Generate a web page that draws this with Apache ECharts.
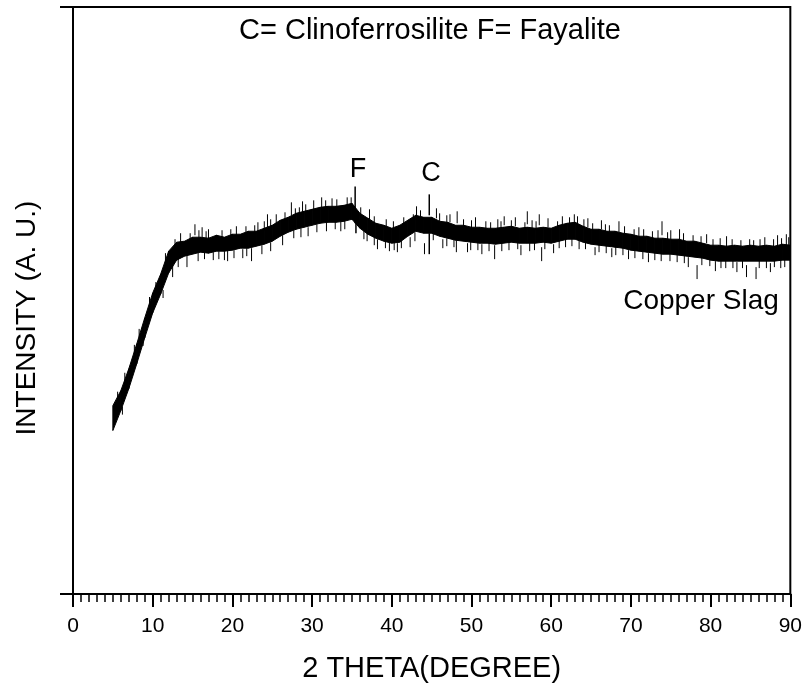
<!DOCTYPE html>
<html>
<head>
<meta charset="utf-8">
<script src="https://cdn.jsdelivr.net/npm/echarts/dist/echarts.min.js"></script>
<style>
  html, body { margin: 0; padding: 0; background: #fff; }
  #main { width: 805px; height: 688px; }
</style>
</head>
<body>
<div id="main"></div>
<script>
// 2 theta positions (degree), read every 1 degree
const twoTheta = [5,6,7,8,9,10,11,12,13,14,15,16,17,18,19,20,21,22,23,24,25,26,27,28,29,30,
  31,32,33,34,35,36,37,38,39,40,41,42,43,44,45,46,47,48,49,50,51,52,53,54,55,56,57,58,59,60,
  61,62,63,64,65,66,67,68,69,70,71,72,73,74,75,76,77,78,79,80,81,82,83,84,85,86,87,88,89,90];
// top and bottom of the dense part of the noisy trace (arbitrary units)
const upperEdge = [189,204,226,251,277,302,321,344,353,354,
  358,358,357,360,358,361,361,364,364,367,
  370,375,378,382,384,386,388,389,389,390,
  392,382,377,372,370,367,370,375,380,378,
  378,374,373,370,370,368,368,367,367,368,
  369,367,368,367,368,367,370,372,373,369,
  366,366,364,364,362,361,359,359,357,357,
  356,356,354,354,352,350,350,349,350,349,
  350,349,350,349,351,350];
const lowerEdge = [164,184,206,231,257,282,301,322,335,339,
  341,343,342,344,344,345,347,347,349,351,
  354,359,363,366,368,370,372,373,373,374,
  376,367,361,357,354,352,353,359,364,362,
  362,359,357,355,354,353,352,352,351,352,
  353,352,352,352,353,352,354,356,356,353,
  351,350,349,348,347,345,344,343,342,341,
  341,340,339,338,337,335,334,334,334,334,
  334,334,334,334,335,335];
// the two marked reflections: [2 theta, from, to]
const peaks = [[35.4, 372, 409], [35.5, 362, 380], [44.7, 380, 401], [44.7, 341, 362]];
// noise spikes sticking out of the band: [2 theta, from, to]
const spikes = [
  [15.3, 360, 371], [16.2, 358, 368], [19.4, 334, 345], [22.4, 334, 347], [24.4, 368, 381],
  [27.4, 380, 393], [28.8, 383, 394], [31.2, 388, 398], [39.7, 344, 354], [40.7, 343, 352],
  [43.1, 378, 389], [44.1, 341, 352], [48.1, 343, 355], [48.2, 372, 384], [52.9, 336, 350],
  [54.1, 370, 379], [57.0, 371, 384], [58.5, 370, 381], [58.8, 334, 348], [62.9, 372, 381],
  [73.9, 360, 374], [76.1, 356, 366], [78.3, 316, 330], [84.5, 318, 330], [85.7, 316, 328],
  [89.5, 350, 361],
  [6.5, 212, 222], [7.7, 240, 250], [9.6, 288, 298], [11.6, 332, 342], [12.5, 318, 330],
  [13.5, 352, 362], [14.3, 328, 340], [17.0, 357, 366], [18.3, 336, 344], [20.5, 360, 369],
  [21.3, 337, 346], [23.2, 364, 373], [25.5, 371, 381], [26.3, 350, 360], [29.5, 359, 368],
  [30.2, 385, 395], [32.5, 388, 397], [33.6, 364, 374], [34.4, 390, 398], [36.5, 356, 366],
  [37.2, 376, 386], [38.2, 346, 356], [41.5, 369, 378], [42.3, 348, 358], [45.6, 377, 387],
  [46.4, 347, 356], [47.3, 373, 381], [49.5, 343, 352], [50.5, 368, 378], [51.3, 341, 351],
  [53.3, 367, 376], [55.5, 369, 378], [56.2, 340, 350], [59.6, 368, 377], [60.3, 342, 351],
  [61.4, 370, 379], [63.5, 346, 355], [64.6, 368, 377], [65.5, 340, 348], [66.3, 366, 375],
  [67.6, 338, 347], [68.5, 363, 374], [69.7, 336, 345], [71.0, 359, 368], [72.2, 333, 342],
  [75.0, 356, 365], [77.2, 328, 338], [79.5, 352, 361], [80.6, 324, 334], [82.0, 349, 359],
  [83.3, 323, 333], [86.8, 349, 358], [87.5, 323, 332], [88.4, 349, 360],
  [5.6, 195, 203], [8.3, 258, 266], [10.4, 305, 313], [12.8, 348, 356], [14.7, 354, 362],
  [15.8, 356, 365], [16.7, 356, 364], [18.7, 356, 365], [19.8, 358, 366], [21.7, 360, 369],
  [22.8, 362, 370], [24.0, 365, 374], [24.8, 367, 376], [26.6, 374, 383], [27.9, 378, 387],
  [28.4, 380, 388], [29.2, 382, 391], [31.7, 386, 395], [33.1, 387, 396], [34.9, 389, 398],
  [36.1, 380, 388], [37.8, 372, 379], [39.3, 368, 376], [40.2, 366, 374], [42.7, 373, 381],
  [43.6, 376, 385], [46.0, 374, 382], [46.9, 371, 380], [49.0, 368, 376], [50.0, 367, 375],
  [51.8, 365, 374], [52.4, 365, 373], [53.7, 365, 374], [55.0, 366, 375], [56.7, 365, 373],
  [57.6, 365, 375], [58.1, 366, 374], [60.8, 366, 374], [62.3, 370, 378], [63.3, 371, 379],
  [64.1, 368, 376], [65.2, 364, 372], [66.8, 363, 371], [67.3, 362, 370], [69.2, 360, 369],
  [70.4, 358, 366], [71.6, 357, 366], [72.7, 356, 364], [73.4, 355, 365], [74.6, 355, 363],
  [76.6, 353, 362], [77.8, 352, 360], [78.8, 351, 359], [80.3, 348, 356], [81.2, 348, 357],
  [82.7, 347, 356], [83.8, 347, 355], [84.9, 348, 356], [85.4, 347, 355], [86.2, 347, 356],
  [87.9, 348, 356], [88.9, 348, 357], [89.8, 349, 358],
  [6.2, 180, 188], [8.8, 249, 257], [11.3, 297, 305], [13.2, 328, 337], [15.7, 334, 343],
  [16.5, 336, 344], [17.6, 335, 343], [19.0, 335, 344], [20.2, 337, 345], [21.8, 339, 347],
  [23.7, 341, 350], [24.8, 344, 353], [27.7, 357, 365], [28.6, 358, 367], [30.6, 363, 371],
  [31.8, 364, 373], [32.9, 366, 374], [34.1, 366, 375], [36.9, 354, 363], [37.8, 350, 359],
  [39.2, 347, 356], [40.3, 345, 354], [41.2, 347, 355], [42.9, 354, 363], [45.2, 355, 364],
  [46.9, 349, 357], [47.8, 348, 356], [49.9, 345, 354], [50.8, 345, 353], [52.2, 344, 353],
  [53.8, 344, 353], [54.7, 345, 354], [55.8, 346, 354], [57.3, 344, 353], [57.9, 345, 354],
  [59.2, 346, 354], [61.0, 347, 355], [61.8, 348, 357], [62.6, 349, 358], [64.3, 346, 354],
  [66.0, 343, 352], [66.9, 342, 350], [68.1, 340, 349], [69.0, 340, 348], [70.5, 337, 346],
  [71.5, 336, 345], [73.0, 335, 344], [73.8, 334, 343], [74.9, 334, 342], [75.8, 333, 342],
  [76.7, 332, 340], [78.9, 330, 338], [79.9, 329, 337], [81.3, 327, 336], [81.9, 327, 335],
  [82.8, 327, 336], [84.0, 327, 335], [86.1, 327, 336], [87.0, 327, 335], [88.0, 328, 336],
  [88.8, 327, 336], [89.3, 328, 337]
];
const xTicks = { min: 0, max: 90, step: 10 };

const font = 'Liberation Sans, Arial, sans-serif';
// one quad per step between neighbouring readings
let bandData = [];
for (let i = 0; i < twoTheta.length - 1; i++) {
  bandData.push([twoTheta[i], lowerEdge[i], upperEdge[i], twoTheta[i + 1], lowerEdge[i + 1], upperEdge[i + 1]]);
}

function renderStroke(width) {
  return function (params, api) {
    let p0 = api.coord([api.value(0), api.value(1)]);
    let p1 = api.coord([api.value(0), api.value(2)]);
    return {
      type: 'line',
      shape: { x1: p0[0], y1: p0[1], x2: p1[0], y2: p1[1] },
      style: { stroke: '#000', lineWidth: width }
    };
  };
}

let myChart = echarts.init(document.getElementById('main'));
let option = {
  animation: false,
  backgroundColor: '#fff',
  grid: {
    left: 73, right: 14, top: 7, bottom: 92,
    show: true, borderColor: '#000', borderWidth: 2
  },
  xAxis: {
    type: 'value',
    min: xTicks.min, max: xTicks.max, interval: xTicks.step,
    name: '2 THETA(DEGREE)',
    nameLocation: 'middle',
    nameGap: 60,
    nameTextStyle: { fontFamily: font, fontSize: 29, color: '#000' },
    axisLine: { lineStyle: { color: '#000', width: 2 } },
    axisTick: { length: 13, lineStyle: { color: '#000', width: 2 } },
    minorTick: { show: true, splitNumber: 10, length: 8, lineStyle: { color: '#000', width: 1.5 } },
    axisLabel: { fontFamily: font, fontSize: 21, color: '#000', margin: 22 },
    splitLine: { show: false }
  },
  yAxis: {
    type: 'value',
    min: 0, max: 589, interval: 589,
    axisLine: { show: true, lineStyle: { color: '#000', width: 2 } },
    axisTick: { show: true, length: 13, lineStyle: { color: '#000', width: 2 } },
    axisLabel: { show: false },
    splitLine: { show: false }
  },
  graphic: [
    { type: 'text', x: 430, y: 31, style: { text: 'C= Clinoferrosilite F= Fayalite', fontFamily: font, fontSize: 29, fill: '#000', textAlign: 'center', textVerticalAlign: 'middle' } },
    { type: 'text', x: 358, y: 170, style: { text: 'F', fontFamily: font, fontSize: 27, fill: '#000', textAlign: 'center', textVerticalAlign: 'middle' } },
    { type: 'text', x: 431, y: 174, style: { text: 'C', fontFamily: font, fontSize: 27, fill: '#000', textAlign: 'center', textVerticalAlign: 'middle' } },
    { type: 'text', x: 701, y: 301, style: { text: 'Copper Slag', fontFamily: font, fontSize: 28, fill: '#000', textAlign: 'center', textVerticalAlign: 'middle' } },
    { type: 'text', x: 27, y: 318, rotation: Math.PI / 2, style: { text: 'INTENSITY (A. U.)', fontFamily: font, fontSize: 28, fill: '#000', textAlign: 'center', textVerticalAlign: 'middle' } }
  ],
  series: [
    {
      name: 'band',
      type: 'custom',
      data: bandData,
      renderItem: function (params, api) {
        let a = api.coord([api.value(0), api.value(1)]);
        let b = api.coord([api.value(0), api.value(2)]);
        let c = api.coord([api.value(3), api.value(5)]);
        let d = api.coord([api.value(3), api.value(4)]);
        return {
          type: 'polygon',
          shape: { points: [a, b, c, d] },
          style: { fill: '#000', stroke: '#000', lineWidth: 1 }
        };
      }
    },
    { name: 'peaks', type: 'custom', data: peaks, renderItem: renderStroke(1.5) },
    { name: 'spikes', type: 'custom', data: spikes, renderItem: renderStroke(1) }
  ]
};
myChart.setOption(option);
</script>
</body>
</html>
